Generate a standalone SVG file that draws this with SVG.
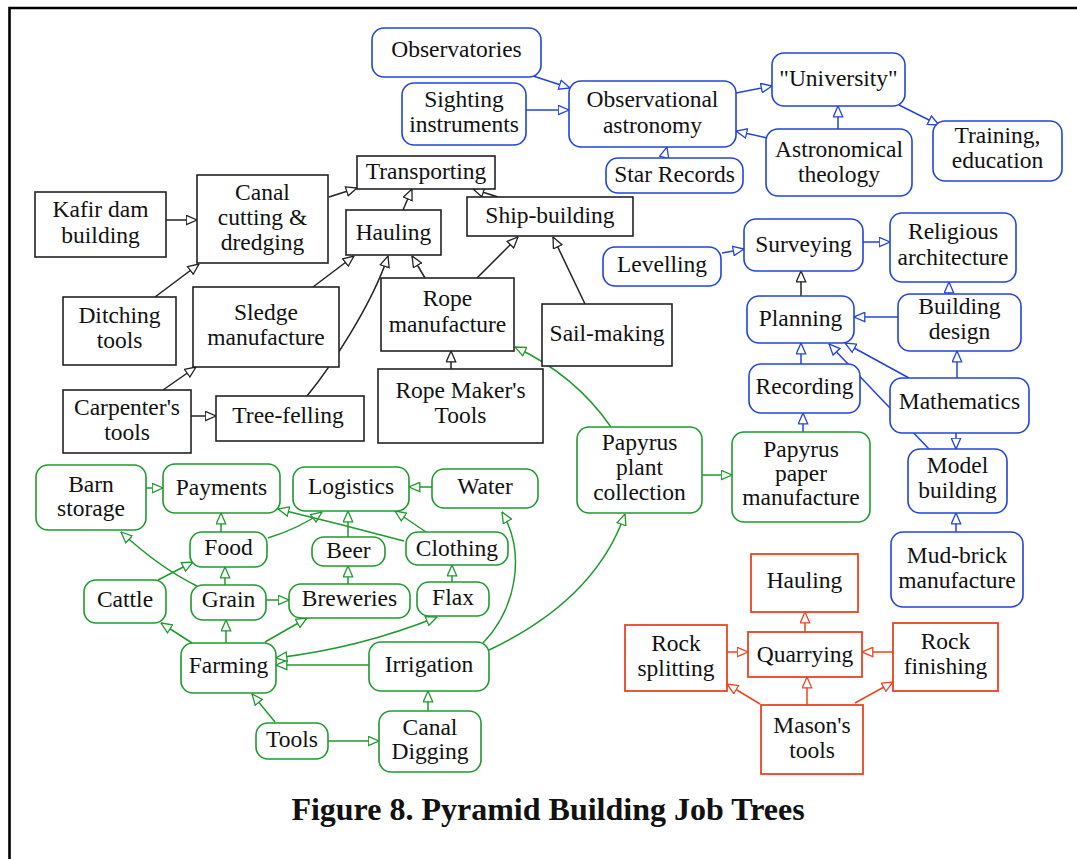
<svg xmlns="http://www.w3.org/2000/svg" width="1077" height="859" viewBox="0 0 1077 859">
  <style>
    text { font-family: "Liberation Serif", "Times New Roman", serif; font-size: 23.5px; fill: #111; text-anchor: middle; }
    .title { font-size: 32px; font-weight: bold; }
    .nb rect { fill: #fff; stroke: #222; stroke-width: 1.6; }
    .nu rect { fill: #fff; stroke: #2244dd; stroke-width: 1.6; }
    .ng rect { fill: #fff; stroke: #1f9a2e; stroke-width: 1.6; }
    .nr rect { fill: #fff; stroke: #ea4422; stroke-width: 1.8; }
    .eb { fill: none; stroke: #222; stroke-width: 1.5; marker-end: url(#ab); }
    .eu { fill: none; stroke: #2244dd; stroke-width: 1.5; marker-end: url(#au); }
    .eg { fill: none; stroke: #1f9a2e; stroke-width: 1.5; marker-end: url(#ag); }
    .er { fill: none; stroke: #ea4422; stroke-width: 1.5; marker-end: url(#ar); }
  </style>
  <defs>
    <marker id="ab" viewBox="0 0 12 11" refX="11.5" refY="5.5" markerWidth="12" markerHeight="11" markerUnits="userSpaceOnUse" orient="auto-start-reverse">
      <path d="M0.7,0.8 L11.5,5.5 L0.7,10.2 Z" fill="#fff" stroke="#222" stroke-width="1.3"/>
    </marker>
    <marker id="au" viewBox="0 0 12 11" refX="11.5" refY="5.5" markerWidth="12" markerHeight="11" markerUnits="userSpaceOnUse" orient="auto-start-reverse">
      <path d="M0.7,0.8 L11.5,5.5 L0.7,10.2 Z" fill="#fff" stroke="#2244dd" stroke-width="1.3"/>
    </marker>
    <marker id="ag" viewBox="0 0 12 11" refX="11.5" refY="5.5" markerWidth="12" markerHeight="11" markerUnits="userSpaceOnUse" orient="auto-start-reverse">
      <path d="M0.7,0.8 L11.5,5.5 L0.7,10.2 Z" fill="#fff" stroke="#1f9a2e" stroke-width="1.3"/>
    </marker>
    <marker id="ar" viewBox="0 0 12 11" refX="11.5" refY="5.5" markerWidth="12" markerHeight="11" markerUnits="userSpaceOnUse" orient="auto-start-reverse">
      <path d="M0.7,0.8 L11.5,5.5 L0.7,10.2 Z" fill="#fff" stroke="#ea4422" stroke-width="1.3"/>
    </marker>
  </defs>

  <rect width="1077" height="859" fill="#fff"/>
  <!-- page frame -->
  <path d="M9.5,859 V8 H1077" fill="none" stroke="#000" stroke-width="2.6"/>

  <g id="connectors">
    <!-- transport tree -->
    <path class="eb" d="M166,220 L197,220"/>
    <path class="eb" d="M329,197 L357,188"/>
    <path class="eb" d="M403,210 L412,189"/>
    <path class="eb" d="M498,197 L473,189"/>
    <path class="eb" d="M155,297 L199,264"/>
    <path class="eb" d="M313,287 L354,256"/>
    <path class="eb" d="M163,390 L196,367"/>
    <path class="eb" d="M191,416 L216,416"/>
    <path class="eb" d="M307,396 C330,368 372,305 388,256"/>
    <path class="eb" d="M425,278 L412,256"/>
    <path class="eb" d="M477,278 L518,237"/>
    <path class="eb" d="M585,304 L553,237"/>
    <path class="eb" d="M451,369 L451,351"/>
    <path class="eb" d="M801,296 L801,271"/>
    <!-- astronomy / architecture tree -->
    <path class="eu" d="M533,76 L570,88"/>
    <path class="eu" d="M526,110 L569,110"/>
    <path class="eu" d="M664,158 L667,147"/>
    <path class="eu" d="M736,93 L772,86"/>
    <path class="eu" d="M767,138 L736,131"/>
    <path class="eu" d="M838,129 L838,106"/>
    <path class="eu" d="M899,105 L939,125"/>
    <path class="eu" d="M722,253 L744,249"/>
    <path class="eu" d="M863,242 L890,242"/>
    <path class="eu" d="M949,294 L949,282"/>
    <path class="eu" d="M898,317 L854,317"/>
    <path class="eu" d="M801,364 L801,343"/>
    <path class="eu" d="M909,378 L845,343"/>
    <path class="eu" d="M929,449 L829,344"/>
    <path class="eu" d="M957,378 L957,351"/>
    <path class="eu" d="M956,433 L956,449"/>
    <path class="eu" d="M956,532 L956,513"/>
    <path class="eu" d="M803,432 L803,413"/>
    <!-- farming tree -->
    <path class="eg" d="M146,488 L163,488"/>
    <path class="eg" d="M221,532 L221,513"/>
    <path class="eg" d="M268,538 Q300,528 322,512"/>
    <path class="eg" d="M404,541 Q340,524 278,509"/>
    <path class="eg" d="M348,537 L348,511"/>
    <path class="eg" d="M426,532 L395,511"/>
    <path class="eg" d="M432,487 L409,487"/>
    <path class="eg" d="M225,585 L225,567"/>
    <path class="eg" d="M158,580 L193,562"/>
    <path class="eg" d="M197,586 Q160,568 121,532"/>
    <path class="eg" d="M266,600 L289,600"/>
    <path class="eg" d="M348,584 L348,566"/>
    <path class="eg" d="M452,582 L452,565"/>
    <path class="eg" d="M192,643 L161,623"/>
    <path class="eg" d="M226,643 L226,620"/>
    <path class="eg" d="M265,642 L307,618"/>
    <path class="eg" d="M369,665 L276,665"/>
    <path class="eg" d="M276,658 Q360,648 437,617" marker-start="url(#ag)"/>
    <path class="eg" d="M483,643 C515,610 527,555 502,512"/>
    <path class="eg" d="M489,650 Q595,600 625,514"/>
    <path class="eg" d="M275,722 L252,694"/>
    <path class="eg" d="M328,741 L379,741"/>
    <path class="eg" d="M428,711 L428,691"/>
    <path class="eg" d="M611,427 Q575,375 515,347"/>
    <path class="eg" d="M702,475 L732,475"/>
    <!-- quarrying tree -->
    <path class="er" d="M805,632 L805,612"/>
    <path class="er" d="M727,652 L748,652"/>
    <path class="er" d="M893,652 L862,652"/>
    <path class="er" d="M807,705 L807,677"/>
    <path class="er" d="M760,704 L727,684"/>
    <path class="er" d="M855,703 L893,682"/>
  </g>

  <!-- transport tree nodes -->
  <g id="kafir-dam" class="nb"><rect x="35" y="192" width="131" height="65"/><text x="100.5" y="217">Kafir dam</text><text x="100.5" y="243">building</text></g>
  <g id="canal-cutting" class="nb"><rect x="197" y="175" width="131" height="88"/><text x="262.5" y="200">Canal</text><text x="262.5" y="225">cutting &amp;</text><text x="262.5" y="250">dredging</text></g>
  <g id="transporting" class="nb"><rect x="357" y="156" width="138" height="33"/><text x="426" y="179">Transporting</text></g>
  <g id="hauling" class="nb"><rect x="346" y="210" width="95" height="45"/><text x="393.5" y="240">Hauling</text></g>
  <g id="ship-building" class="nb"><rect x="467" y="197" width="166" height="39"/><text x="550" y="223">Ship-building</text></g>
  <g id="ditching-tools" class="nb"><rect x="63" y="297" width="113" height="68"/><text x="119.5" y="323">Ditching</text><text x="119.5" y="348">tools</text></g>
  <g id="sledge" class="nb"><rect x="193" y="287" width="146" height="80"/><text x="266" y="320">Sledge</text><text x="266" y="345">manufacture</text></g>
  <g id="carpenters-tools" class="nb"><rect x="63" y="390" width="128" height="63"/><text x="127" y="415">Carpenter's</text><text x="127" y="440">tools</text></g>
  <g id="tree-felling" class="nb"><rect x="216" y="396" width="148" height="45"/><text x="288" y="423">Tree-felling</text></g>
  <g id="rope-manufacture" class="nb"><rect x="381" y="278" width="133" height="73"/><text x="447.5" y="306">Rope</text><text x="447.5" y="332">manufacture</text></g>
  <g id="rope-tools" class="nb"><rect x="378" y="369" width="165" height="74"/><text x="460.5" y="398">Rope Maker's</text><text x="460.5" y="423">Tools</text></g>
  <g id="sail-making" class="nb"><rect x="542" y="304" width="130" height="62"/><text x="607" y="341">Sail-making</text></g>

  <!-- astronomy / architecture nodes -->
  <g id="observatories" class="nu"><rect x="372" y="28" width="169" height="49" rx="12"/><text x="456.5" y="57">Observatories</text></g>
  <g id="sighting" class="nu"><rect x="402" y="83" width="124" height="62" rx="12"/><text x="464" y="107">Sighting</text><text x="464" y="132">instruments</text></g>
  <g id="obs-astronomy" class="nu"><rect x="569" y="81" width="167" height="66" rx="12"/><text x="652.5" y="107">Observational</text><text x="652.5" y="133">astronomy</text></g>
  <g id="star-records" class="nu"><rect x="606" y="158" width="137" height="35" rx="12"/><text x="674.5" y="182">Star Records</text></g>
  <g id="university" class="nu"><rect x="772" y="53" width="133" height="53" rx="12"/><text x="838.5" y="86">"University"</text></g>
  <g id="astro-theology" class="nu"><rect x="766" y="129" width="146" height="67" rx="12"/><text x="839" y="157">Astronomical</text><text x="839" y="182">theology</text></g>
  <g id="training" class="nu"><rect x="933" y="121" width="129" height="60" rx="12"/><text x="997.5" y="143">Training,</text><text x="997.5" y="168">education</text></g>
  <g id="levelling" class="nu"><rect x="603" y="247" width="118" height="39" rx="12"/><text x="662" y="272">Levelling</text></g>
  <g id="surveying" class="nu"><rect x="744" y="219" width="119" height="52" rx="12"/><text x="803.5" y="252">Surveying</text></g>
  <g id="religious-arch" class="nu"><rect x="890" y="213" width="126" height="69" rx="12"/><text x="953" y="239">Religious</text><text x="953" y="265">architecture</text></g>
  <g id="planning" class="nu"><rect x="747" y="296" width="107" height="47" rx="12"/><text x="800.5" y="326">Planning</text></g>
  <g id="building-design" class="nu"><rect x="898" y="294" width="123" height="57" rx="12"/><text x="959.5" y="314">Building</text><text x="959.5" y="339">design</text></g>
  <g id="recording" class="nu"><rect x="749" y="364" width="111" height="49" rx="12"/><text x="804.5" y="394">Recording</text></g>
  <g id="mathematics" class="nu"><rect x="890" y="378" width="139" height="55" rx="12"/><text x="959.5" y="409">Mathematics</text></g>
  <g id="model-building" class="nu"><rect x="908" y="449" width="99" height="64" rx="12"/><text x="957.5" y="473">Model</text><text x="957.5" y="498">building</text></g>
  <g id="mud-brick" class="nu"><rect x="891" y="532" width="132" height="75" rx="12"/><text x="957" y="563">Mud-brick</text><text x="957" y="588">manufacture</text></g>

  <!-- farming / papyrus nodes -->
  <g id="papyrus-paper" class="ng"><rect x="732" y="432" width="138" height="90" rx="12"/><text x="801" y="457">Papyrus</text><text x="801" y="481">paper</text><text x="801" y="505">manufacture</text></g>
  <g id="papyrus-plant" class="ng"><rect x="577" y="427" width="125" height="86" rx="12"/><text x="639.5" y="450">Papyrus</text><text x="639.5" y="475">plant</text><text x="639.5" y="500">collection</text></g>
  <g id="barn-storage" class="ng"><rect x="36" y="465" width="110" height="65" rx="12"/><text x="91" y="492">Barn</text><text x="91" y="516">storage</text></g>
  <g id="payments" class="ng"><rect x="163" y="464" width="117" height="49" rx="12"/><text x="221.5" y="495">Payments</text></g>
  <g id="logistics" class="ng"><rect x="293" y="467" width="116" height="44" rx="12"/><text x="351" y="494">Logistics</text></g>
  <g id="water" class="ng"><rect x="432" y="469" width="106" height="39" rx="12"/><text x="485" y="494">Water</text></g>
  <g id="food" class="ng"><rect x="190" y="532" width="77" height="35" rx="12"/><text x="228.5" y="555">Food</text></g>
  <g id="beer" class="ng"><rect x="312" y="537" width="73" height="29" rx="12"/><text x="348.5" y="558">Beer</text></g>
  <g id="clothing" class="ng"><rect x="406" y="532" width="102" height="33" rx="12"/><text x="457" y="556">Clothing</text></g>
  <g id="cattle" class="ng"><rect x="84" y="580" width="82" height="43" rx="12"/><text x="125" y="607">Cattle</text></g>
  <g id="grain" class="ng"><rect x="191" y="585" width="75" height="35" rx="12"/><text x="228.5" y="607">Grain</text></g>
  <g id="breweries" class="ng"><rect x="289" y="584" width="121" height="34" rx="12"/><text x="349.5" y="606">Breweries</text></g>
  <g id="flax" class="ng"><rect x="417" y="582" width="72" height="34" rx="12"/><text x="453" y="605">Flax</text></g>
  <g id="farming" class="ng"><rect x="181" y="643" width="95" height="50" rx="12"/><text x="228.5" y="673">Farming</text></g>
  <g id="irrigation" class="ng"><rect x="369" y="642" width="120" height="49" rx="12"/><text x="429" y="672">Irrigation</text></g>
  <g id="tools" class="ng"><rect x="256" y="723" width="72" height="36" rx="12"/><text x="292" y="747">Tools</text></g>
  <g id="canal-digging" class="ng"><rect x="379" y="711" width="102" height="61" rx="12"/><text x="430" y="735">Canal</text><text x="430" y="759">Digging</text></g>

  <!-- quarrying nodes -->
  <g id="r-hauling" class="nr"><rect x="751" y="554" width="107" height="58"/><text x="804.5" y="588">Hauling</text></g>
  <g id="rock-splitting" class="nr"><rect x="625" y="625" width="102" height="66"/><text x="676" y="651">Rock</text><text x="676" y="676">splitting</text></g>
  <g id="quarrying" class="nr"><rect x="748" y="632" width="114" height="45"/><text x="805" y="662">Quarrying</text></g>
  <g id="rock-finishing" class="nr"><rect x="893" y="623" width="105" height="68"/><text x="945.5" y="649">Rock</text><text x="945.5" y="674">finishing</text></g>
  <g id="masons-tools" class="nr"><rect x="761" y="705" width="102" height="69"/><text x="812" y="733">Mason's</text><text x="812" y="758">tools</text></g>

  <text class="title" x="548" y="820">Figure 8. Pyramid Building Job Trees</text>
</svg>
